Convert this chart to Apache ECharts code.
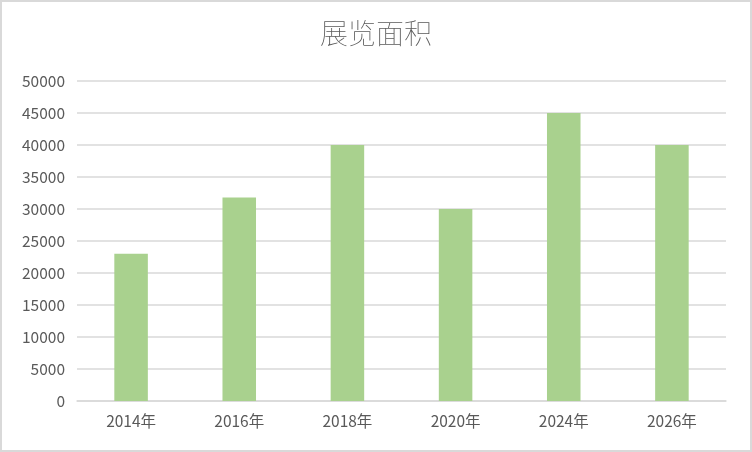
<!DOCTYPE html>
<html>
<head>
<meta charset="utf-8">
<script src="https://cdn.jsdelivr.net/npm/echarts@6/dist/echarts.min.js"></script>
<style>
  html, body { margin: 0; padding: 0; background: #fff; }
  #chart { width: 752px; height: 452px; box-sizing: border-box; border: 2px solid #d9d9d9; }
</style>
</head>
<body>
<div id="chart"></div>
<script>
const title = "展览面积";
const categories = ["2014年", "2016年", "2018年", "2020年", "2024年", "2026年"];
const areaValues = [23000, 31800, 40000, 30000, 45000, 40000];

const font = "'Noto Sans CJK SC', sans-serif";

const chart = echarts.init(document.getElementById("chart"), null, { renderer: "canvas" });
chart.setOption({
  animation: false,
  title: {
    text: title,
    left: "center",
    top: 12,
    textStyle: { color: "#595959", fontSize: 28, fontWeight: "lighter", fontFamily: font },
  },
  grid: { left: 75, right: 24, top: 79, bottom: 49 },
  xAxis: {
    type: "category",
    data: categories,
    axisLine: { lineStyle: { color: "#d9d9d9", width: 1.5 } },
    axisTick: { show: false },
    axisLabel: { color: "#595959", fontSize: 15.5, margin: 12, fontFamily: font },
  },
  yAxis: {
    type: "value",
    min: 0,
    max: 50000,
    interval: 5000,
    axisLine: { show: false },
    axisTick: { show: false },
    splitLine: { lineStyle: { color: "#d9d9d9", width: 1.5 } },
    axisLabel: {
      color: "#595959", fontSize: 15.5, margin: 12, fontFamily: font,
      formatter: (v) => String(v),
    },
  },
  series: [
    {
      type: "bar",
      data: areaValues,
      barWidth: "31%",
      itemStyle: { color: "#a9d18e" },
    },
  ],
});
</script>
</body>
</html>
